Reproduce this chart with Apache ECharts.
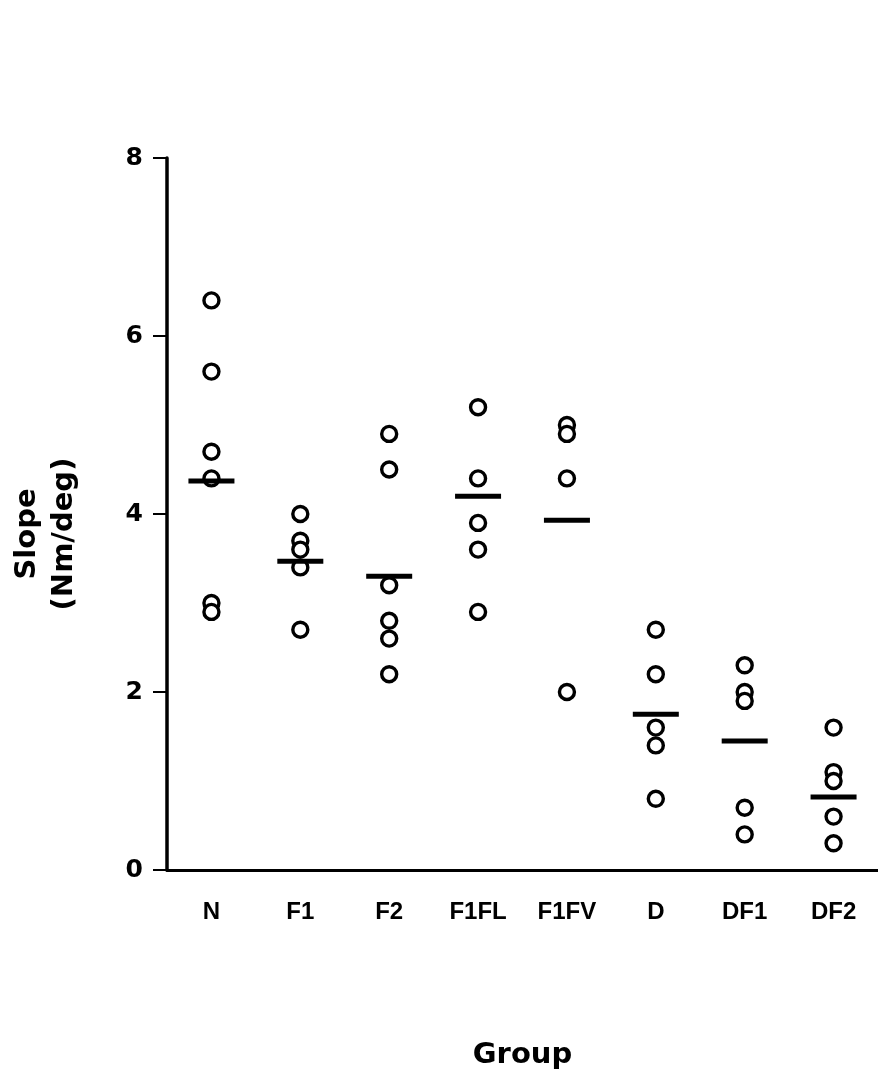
<!DOCTYPE html>
<html>
<head>
<meta charset="utf-8">
<script src="https://cdn.jsdelivr.net/npm/echarts@6/dist/echarts.min.js"></script>
<style>
  html, body { margin: 0; padding: 0; background: #fff; }
  #chart { width: 878px; height: 1073px; }
</style>
</head>
<body>
<div id="chart"></div>
<script>
// groups on the x axis
var groups = ['N', 'F1', 'F2', 'F1FL', 'F1FV', 'D', 'DF1', 'DF2'];
// individual slopes per group
var valN = [6.4, 5.6, 4.7, 4.4, 3.0, 2.9];
var valF1 = [4.0, 3.7, 3.6, 3.4, 2.7];
var valF2 = [4.9, 4.5, 3.2, 2.8, 2.6, 2.2];
var valF1FL = [5.2, 4.4, 3.9, 3.6, 2.9];
var valF1FV = [5.0, 4.9, 4.4, 2.0];
var valD = [2.7, 2.2, 1.6, 1.4, 0.8];
var valDF1 = [2.3, 2.0, 1.9, 0.7, 0.4];
var valDF2 = [1.6, 1.1, 1.0, 0.6, 0.3];
// group mean bars
var means = [4.37, 3.47, 3.30, 4.20, 3.93, 1.75, 1.45, 0.82];
var yTicks = [0, 2, 4, 6, 8];

var groupVals = [valN, valF1, valF2, valF1FL, valF1FV, valD, valDF1, valDF2];
var points = [];
groupVals.forEach(function (arr, i) {
    arr.forEach(function (v) { points.push([groups[i], v]); });
});
var meanPts = means.map(function (m, i) { return [groups[i], m]; });

var chart = echarts.init(document.getElementById('chart'));
var font = 'Liberation Sans, Arial, sans-serif';
var wide = 'DejaVu Sans, sans-serif';
chart.setOption({
    animation: false,
    backgroundColor: '#fff',
    grid: { left: 167, right: 0, top: 158, bottom: 203, containLabel: false, outerBoundsMode: 'none' },
    xAxis: {
        type: 'category',
        data: groups,
        boundaryGap: true,
        name: 'Group',
        nameLocation: 'middle',
        nameGap: 171,
        nameTextStyle: { fontFamily: wide, fontWeight: 'bold', fontSize: 29, color: '#000' },
        axisLine: { lineStyle: { color: '#000', width: 3 } },
        axisTick: { alignWithLabel: true, length: 14, lineStyle: { color: '#000', width: 2 } },
        axisLabel: { margin: 30, fontFamily: font, fontWeight: 'bold', fontSize: 24, color: '#000' },
        splitLine: { show: false }
    },
    yAxis: {
        type: 'value',
        min: 0,
        max: 8,
        interval: 2,
        name: 'Slope\n(Nm/deg)',
        nameLocation: 'middle',
        nameRotate: 90,
        nameGap: 84,
        nameTextStyle: {
            fontFamily: wide, fontWeight: 'bold', fontSize: 29, color: '#000',
            lineHeight: 37, padding: [0, 40, 0, 0]
        },
        axisLine: { show: true, lineStyle: { color: '#000', width: 3.5 } },
        axisTick: { show: true, length: 14, lineStyle: { color: '#000', width: 2 } },
        axisLabel: {
            margin: 24, fontFamily: wide, fontWeight: 'bold', fontSize: 25, color: '#000',
            formatter: function (v) { return yTicks.indexOf(v) >= 0 ? String(v) : ''; }
        },
        splitLine: { show: false }
    },
    series: [
        {
            type: 'scatter',
            data: points,
            symbol: 'circle',
            symbolSize: 15,
            itemStyle: { color: '#fff', borderColor: '#000', borderWidth: 3.4, opacity: 1 },
            z: 2
        },
        {
            type: 'scatter',
            data: meanPts,
            symbol: 'rect',
            symbolSize: [46, 5],
            itemStyle: { color: '#000', opacity: 1 },
            z: 3
        }
    ]
});
</script>
</body>
</html>
